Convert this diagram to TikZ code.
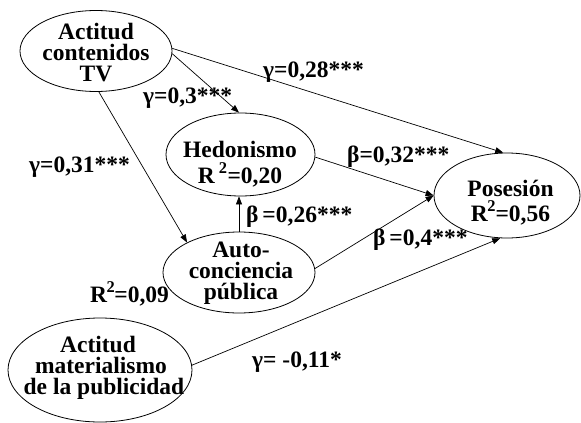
\documentclass[tikz,border=0pt]{standalone}
\usepackage{fontspec}
\setmainfont{Liberation Serif}
\usetikzlibrary{shapes.geometric,arrows.meta}
\tikzset{
  ell/.style={draw, ellipse, inner sep=0pt, line width=0.8pt},
  txt/.style={anchor=base, inner sep=0pt, align=center, font=\fontsize{23.5}{21}\selectfont\bfseries},
  lab/.style={anchor=base west, inner sep=0pt, font=\fontsize{23.5}{21}\selectfont\bfseries},
  conn/.style={line width=0.7pt, -{Triangle[length=8pt,width=6pt]}}
}
\begin{document}
\begin{tikzpicture}[x=1pt,y=-1pt]
\useasboundingbox (0,0) rectangle (581,423);
% ellipses
\node[ell, minimum width=152pt, minimum height=81pt] (A) at (96,51) {};
\node[ell, minimum width=149pt, minimum height=83pt] (H) at (240.5,154.5) {};
\node[ell, minimum width=146pt, minimum height=85pt] (P) at (507,195.5) {};
\node[ell, minimum width=152pt, minimum height=81pt] (C) at (239,272.5) {};
\node[ell, minimum width=184pt, minimum height=104pt] (M) at (100,370) {};
% node texts (anchored at the baseline of the last line)
\node[txt] (At) at (96,81) {Actitud\\contenidos\\TV};
\node[txt] (Ht) at (240,183) {Hedonismo\\[5pt]R\,\textsuperscript{2}=0,20};
\node[txt] (Pt) at (510.5,221) {Posesión\\[4pt]R\kern-0.5pt\textsuperscript{2}\kern-0.5pt=0,56};
\node[txt] (Ct) at (241,299) {Auto-\\conciencia\\pública};
\node[txt] (Mt) at (101,394) {\hspace*{-6pt}Actitud\\materialismo\\\hspace*{6pt}de la publicidad};
% connectors
\draw[conn] (A.2) -- (P.95);
\draw[conn] (A.-2) -- (H.92);
\draw[conn] (A.-86) -- (C.150);
\draw[conn] (H.-2) -- (P.west);
\draw[conn] (C.3) -- (P.west);
\draw[conn] (C.north) -- (C.north |- H.south);
\draw[conn] (M.3) -- (P.-99);
% labels
\node[lab] (l1) at (263,77) {γ=0,28***};
\node[lab] (l2) at (143,103) {γ=0,3***};
\node[lab] (l3) at (29,172) {γ=0,31***};
\node[lab] (l4) at (347,162) {β=0,32***};
\node[lab] (l5) at (246,222) {β\,=0,26***};
\node[lab] (l6) at (373,245) {β\,=0,4***};
\node[lab] (l7) at (90,302) {R\kern-0.5pt\textsuperscript{2}\kern-1pt=0,09};
\node[lab] (l8) at (252,367) {γ= -0,11*};
\end{tikzpicture}
\end{document}
